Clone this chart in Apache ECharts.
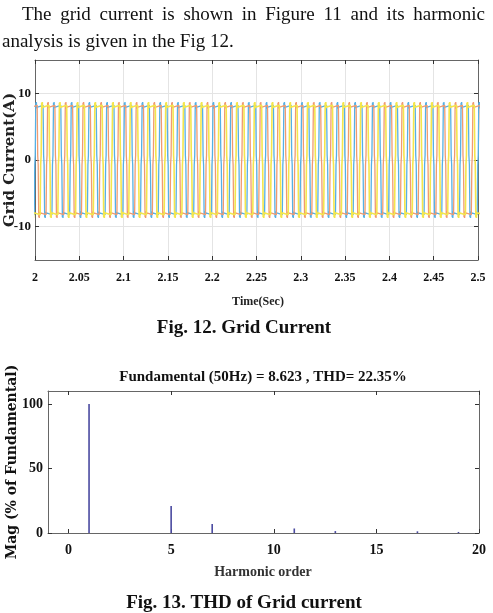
<!DOCTYPE html>
<html>
<head>
<meta charset="utf-8">
<script src="https://cdn.jsdelivr.net/npm/echarts@6/dist/echarts.min.js"></script>
<style>
  html, body { margin: 0; padding: 0; background: #fff; }
  #chart { width: 493px; height: 613px; }
</style>
</head>
<body>
<div id="chart"></div>
<script>
// Fig. 12 - one 50 Hz cycle of the grid current (angle in deg, current in A)
const cycleAngle = [0, 5, 10, 16, 22, 28, 34, 42, 164, 170, 175, 180, 185, 190, 196, 202, 208, 214, 222, 344, 350, 355, 360];
const cycleCurrent = [0, 0.7, 4.3, 8.6, 7.7, 8.7, 7.9, 8.2, 8.2, 4.3, 0.7, 0, -0.7, -4.3, -8.6, -7.7, -8.7, -7.9, -8.2, -8.2, -4.3, -0.7, 0];
const phaseShift = [0, -120, -240];
const timeStart = 2;
const timeEnd = 2.5;
const gridPeriod = 0.02;
const timeTicks = [2, 2.05, 2.1, 2.15, 2.2, 2.25, 2.3, 2.35, 2.4, 2.45, 2.5];
const currentTicks = [-10, 0, 10];

// Fig. 13 - harmonic spectrum (% of fundamental)
const harmonicOrder = [1, 5, 7, 11, 13, 17, 19];
const harmonicMag = [100, 21, 7, 3.5, 1.5, 1.3, 0.8];
const harmonicTicks = [0, 5, 10, 15, 20];
const magTicks = [0, 50, 100];

const chart = echarts.init(document.getElementById('chart'));

// repeat the measured cycle over the time window for each phase
function phaseData(shift) {
  const pts = [];
  for (let k = -1; k <= 25; k++) {
    for (let i = 0; i < cycleAngle.length - 1; i++) {
      pts.push([timeStart + (k + (cycleAngle[i] + shift) / 360) * gridPeriod, cycleCurrent[i]]);
    }
  }
  return pts;
}

const serif = '"Liberation Serif", "Times New Roman", serif';
const boxColor = '#666';

// axis helper - main axes carry labels, mirror axes only close the box
function axis(gridIndex, position, min, max, ticks, label, split) {
  return {
    type: 'value', gridIndex, position, min, max,
    axisLine: { show: true, onZero: false, lineStyle: { color: boxColor, width: 1 } },
    axisTick: { show: true, inside: true, length: 4, customValues: ticks, lineStyle: { color: '#333' } },
    axisLabel: label ? Object.assign({ show: true, customValues: ticks }, label) : { show: false },
    splitLine: { show: !!split, lineStyle: { color: '#e4e4e4', width: 1 } }
  };
}

const topLabelX = { fontFamily: serif, fontWeight: 'bold', fontSize: 12, color: '#111', margin: 12,
  formatter: v => String(+v.toFixed(2)) };
const topLabelY = { fontFamily: serif, fontWeight: 'bold', fontSize: 13, color: '#111', margin: 4 };
const botLabelX = { fontFamily: serif, fontWeight: 'bold', fontSize: 14, color: '#111', margin: 10 };
const botLabelY = { fontFamily: serif, fontWeight: 'bold', fontSize: 14, color: '#111', margin: 5 };

// justified first paragraph line
const measure = document.createElement('canvas').getContext('2d');
const paraFont = '19px ' + serif;
measure.font = paraFont;
function justify(text, x0, x1, y) {
  const words = text.split(' ');
  const widths = words.map(w => measure.measureText(w).width);
  const gap = (x1 - x0 - widths.reduce((a, b) => a + b, 0)) / (words.length - 1);
  let x = x0;
  return words.map((w, i) => {
    const el = { type: 'text', x, y, style: { text: w, font: paraFont, fill: '#111', verticalAlign: 'middle' } };
    x += widths[i] + gap;
    return el;
  });
}

function label(text, x, y, font, rot, fill) {
  return { type: 'text', x, y, rotation: rot || 0,
    style: { text, font, fill: fill || '#111', align: 'center', verticalAlign: 'middle' } };
}

const option = {
  animation: false,
  backgroundColor: '#fff',
  grid: [
    { left: 35, right: 15, top: 60, height: 200 },
    { left: 48, right: 14, top: 391, height: 142 }
  ],
  xAxis: [
    Object.assign(axis(0, 'bottom', timeStart, timeEnd, timeTicks, topLabelX, true), { interval: 0.05 }),
    axis(0, 'top', timeStart, timeEnd, timeTicks, null, false),
    axis(1, 'bottom', -1, 20, harmonicTicks, botLabelX, false),
    axis(1, 'top', -1, 20, harmonicTicks, null, false)
  ],
  yAxis: [
    Object.assign(axis(0, 'left', -15, 15, currentTicks, topLabelY, true), { interval: 5 }),
    axis(0, 'right', -15, 15, currentTicks, null, false),
    axis(1, 'left', 0, 110, magTicks, botLabelY, false),
    axis(1, 'right', 0, 110, magTicks, null, false)
  ],
  series: [
    { type: 'line', xAxisIndex: 0, yAxisIndex: 0, data: phaseData(phaseShift[0]), showSymbol: false,
      lineStyle: { color: '#55b0e6', width: 1.3 } },
    { type: 'line', xAxisIndex: 0, yAxisIndex: 0, data: phaseData(phaseShift[1]), showSymbol: false,
      lineStyle: { color: '#f09a70', width: 1.3 } },
    { type: 'line', xAxisIndex: 0, yAxisIndex: 0, data: phaseData(phaseShift[2]), showSymbol: false,
      lineStyle: { color: '#f4e64c', width: 1.6 } },
    { type: 'bar', xAxisIndex: 2, yAxisIndex: 2, barWidth: 1.6,
      data: harmonicOrder.map((h, i) => [h, harmonicMag[i]]),
      itemStyle: { color: '#4a4aa0' } }
  ],
  graphic: [
    ...justify('The grid current is shown in Figure 11 and its harmonic', 22, 485, 15),
    { type: 'text', x: 2, y: 42, style: { text: 'analysis is given in the Fig 12.', font: paraFont, fill: '#111', verticalAlign: 'middle' } },
    label('Grid Current(A)', 10, 160, 'bold 15px "DejaVu Serif"', Math.PI / 2, '#222'),
    label('Time(Sec)', 258, 302, 'bold 12px ' + serif, 0, '#222'),
    label('Fig. 12. Grid Current', 244, 328, 'bold 19px ' + serif),
    label('Fundamental (50Hz) = 8.623 , THD= 22.35%', 263, 377, 'bold 15px ' + serif),
    label('Mag (% of Fundamental)', 12, 462, 'bold 14px "DejaVu Serif"', Math.PI / 2),
    label('Harmonic order', 263, 572, 'bold 14px ' + serif, 0, '#333'),
    label('Fig. 13. THD of Grid current', 244, 603, 'bold 19px ' + serif)
  ]
};

chart.setOption(option);
</script>
</body>
</html>
